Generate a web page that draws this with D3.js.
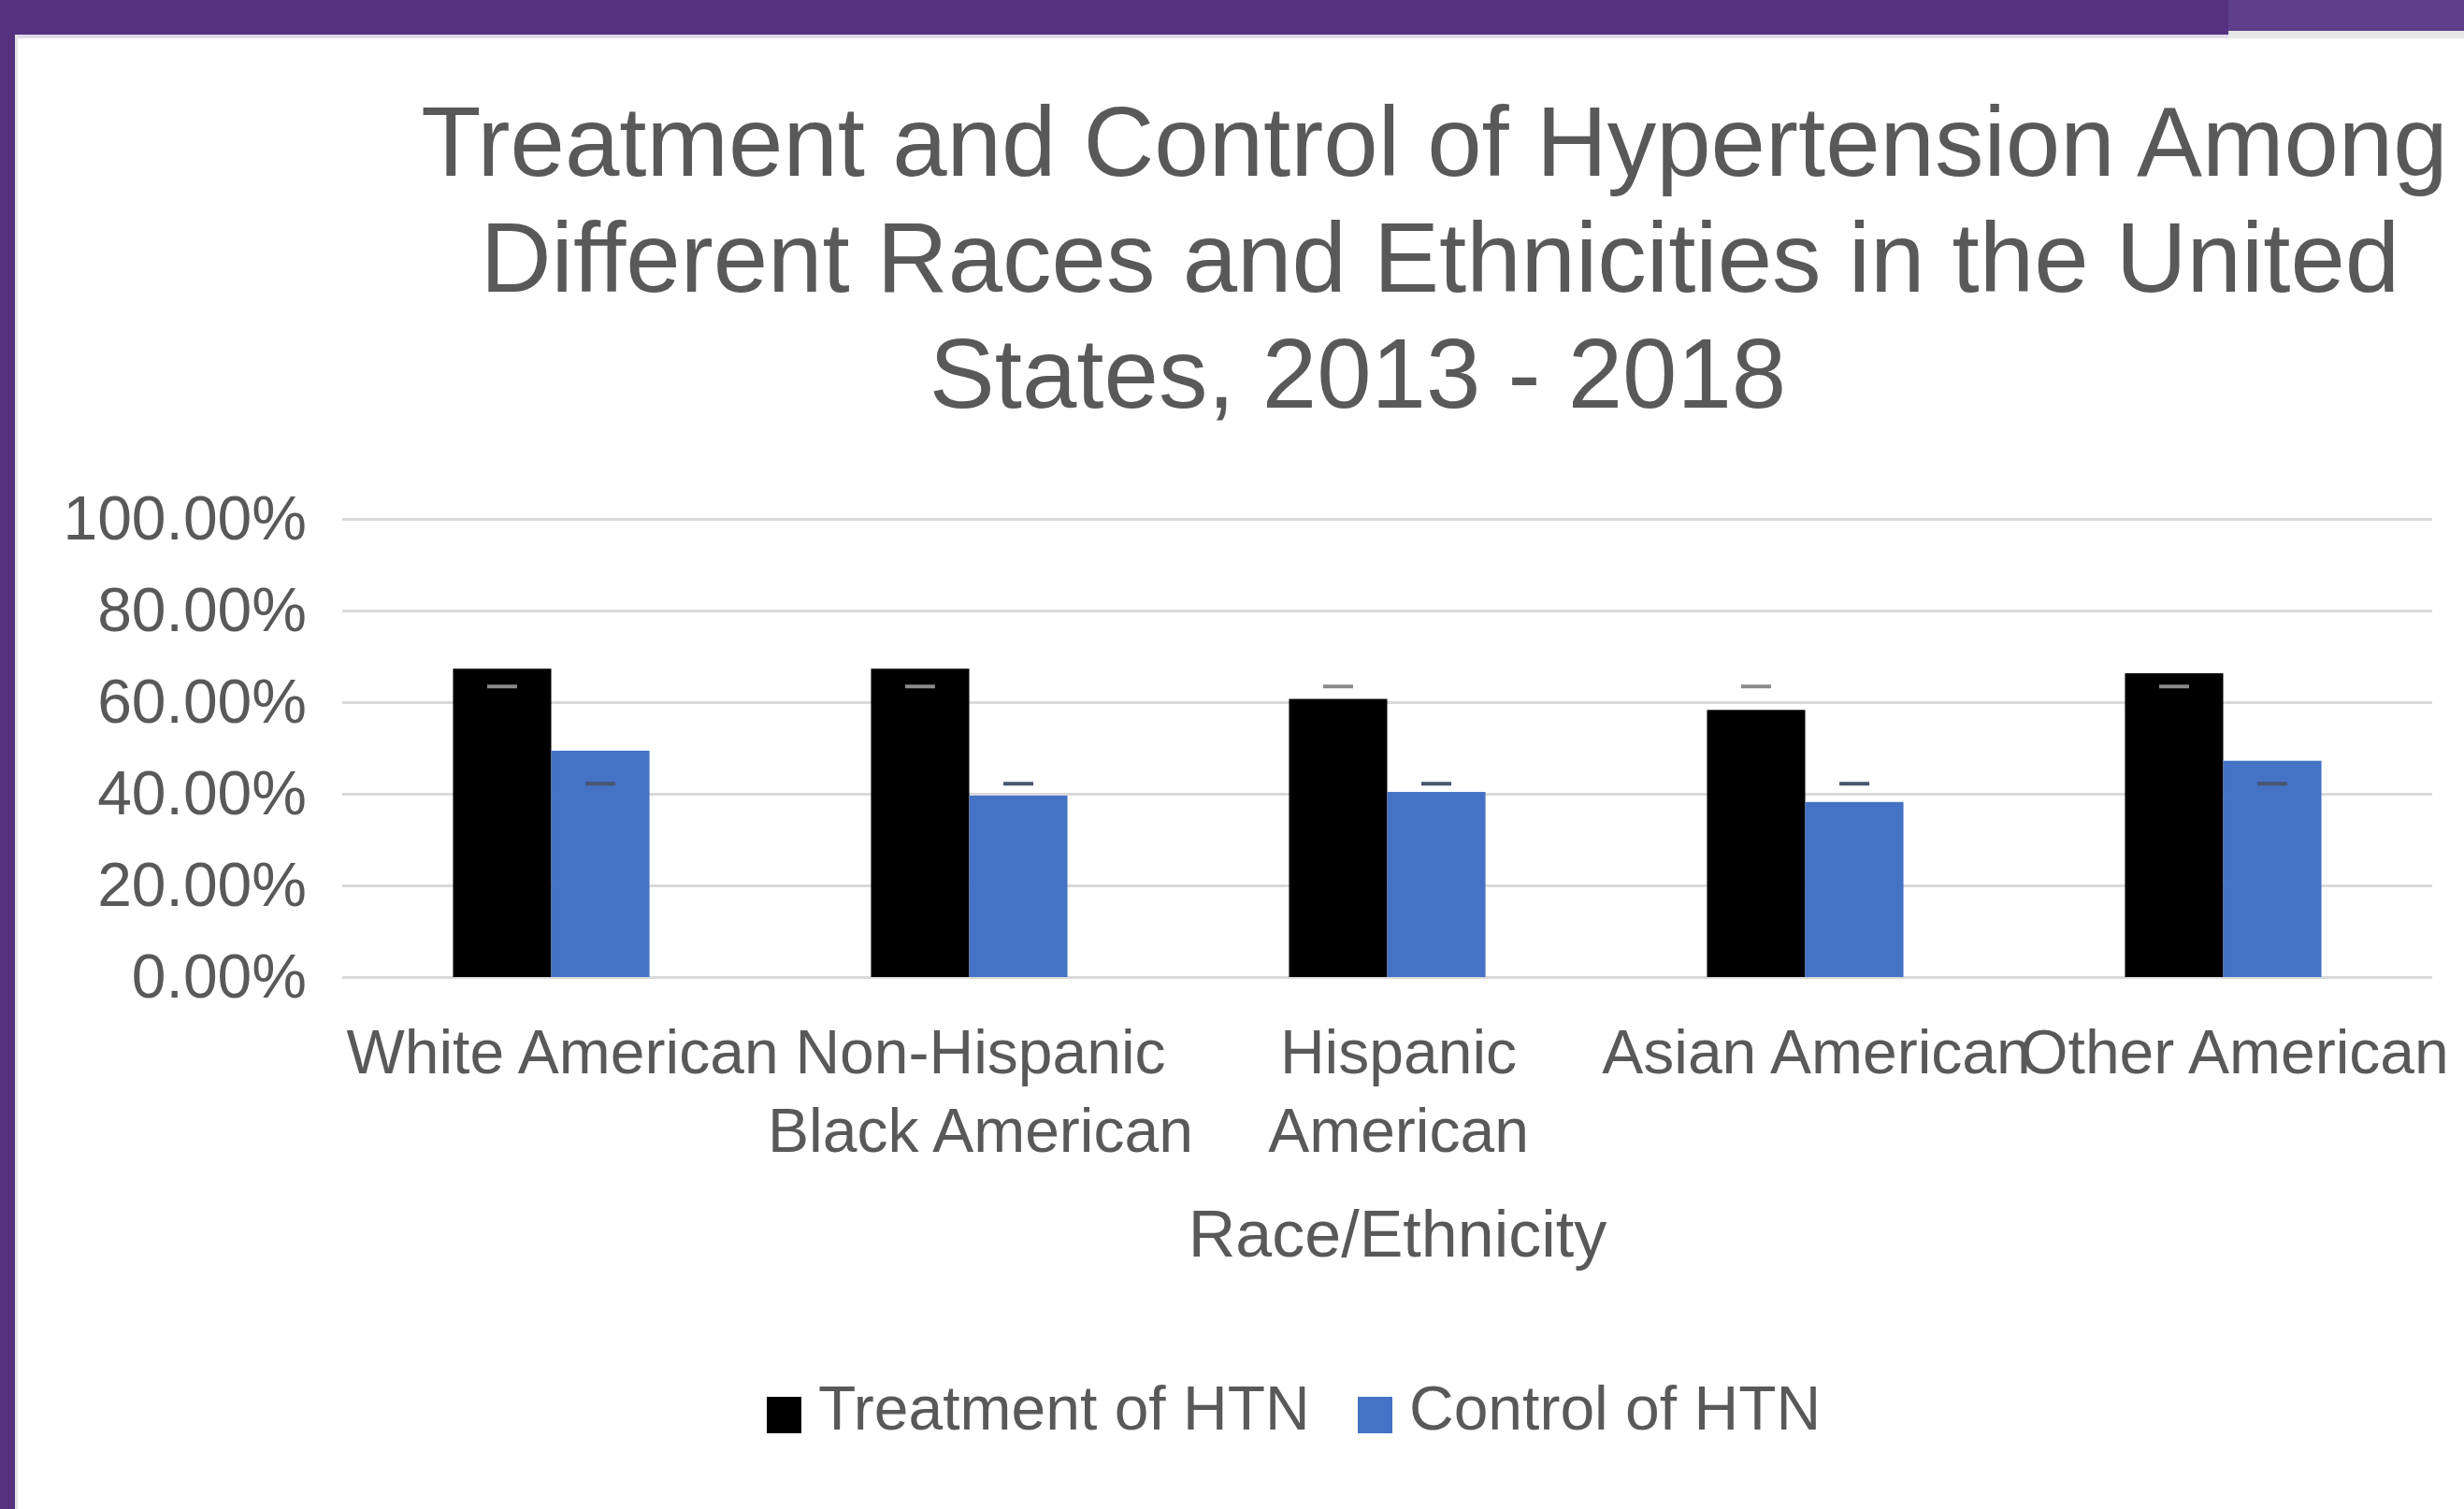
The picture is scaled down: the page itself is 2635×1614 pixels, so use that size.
<!DOCTYPE html>
<html>
<head>
<meta charset="utf-8">
<script src="https://cdn.jsdelivr.net/npm/d3@7"></script>
<style>
  html, body { margin: 0; padding: 0; background: #553180; }
  svg { display: block; }
  text { font-family: "Liberation Sans", Arial, sans-serif; }
</style>
</head>
<body>
<script>
// ---- data ----
const categories = ["White American", "Non-Hispanic Black American", "Hispanic American", "Asian American", "Other American"];
const tickLines = [["White American"], ["Non-Hispanic", "Black American"], ["Hispanic", "American"], ["Asian American"], ["Other American"]];
const seriesNames = ["Treatment of HTN", "Control of HTN"];
const treatment = [67.3, 67.3, 60.7, 58.3, 66.3];
const control = [49.4, 39.6, 40.4, 38.2, 47.2];
const treatmentErr = [63.4, 63.4, 63.4, 63.4, 63.4];
const controlErr = [42.2, 42.2, 42.2, 42.2, 42.2];
const yTicks = [0, 20, 40, 60, 80, 100];
const titleLines = ["Treatment and Control of Hypertension Among", "Different Races and Ethnicities in the United", "States, 2013 - 2018"];
const axisTitle = "Race/Ethnicity";
const colors = ["#000000", "#4472C4"];

const W = 2635, H = 1614;
const svg = d3.select("body").append("svg").attr("width", W).attr("height", H);

// frame
svg.append("rect").attr("width", W).attr("height", H).attr("fill", "#553180");
svg.append("rect").attr("x", 2383).attr("y", 0).attr("width", W - 2383).attr("height", 34).attr("fill", "#5f3e8b");
svg.append("rect").attr("x", 16).attr("y", 37).attr("width", 2367).attr("height", H - 37).attr("fill", "#ffffff");
svg.append("rect").attr("x", 2383).attr("y", 33).attr("width", W - 2383).attr("height", H - 33).attr("fill", "#ffffff");
svg.append("rect").attr("x", 16).attr("y", 37).attr("width", 2367).attr("height", 4).attr("fill", "#e2d9ef");
svg.append("rect").attr("x", 2383).attr("y", 33).attr("width", W - 2383).attr("height", 8).attr("fill", "#e6e6e6");
svg.append("rect").attr("x", 16).attr("y", 37).attr("width", 3).attr("height", H - 37).attr("fill", "#e4e4e4");

// title
const titleX = [1534, 1540, 1452];
const titleY = [188, 312, 436];
svg.append("g").selectAll("text").data(titleLines).join("text")
  .attr("x", (d, i) => titleX[i]).attr("y", (d, i) => titleY[i])
  .attr("text-anchor", "middle").attr("font-size", 105).attr("fill", "#595959")
  .text(d => d);

// scales
const plotL = 366, plotR = 2601, plotT = 555, plotB = 1045;
const x0 = d3.scaleBand().domain(categories).range([plotL, plotR]).padding(0);
const bw = x0.bandwidth();
const x1 = d3.scaleBand().domain(seriesNames).range([0.265 * bw, 0.735 * bw]).padding(0);
const y = d3.scaleLinear().domain([0, 100]).range([plotB, plotT]);

// y axis + gridlines
const yAxis = svg.append("g").attr("transform", `translate(${plotL},0)`)
  .call(d3.axisLeft(y).tickValues(yTicks).tickFormat(d => d.toFixed(2) + "%").tickSize(-(plotR - plotL)).tickPadding(38));
yAxis.select(".domain").remove();
yAxis.selectAll(".tick line").attr("stroke", "#d9d9d9").attr("stroke-width", 3);
yAxis.selectAll(".tick text").attr("font-size", 66).attr("fill", "#595959")
  .attr("font-family", "'Liberation Sans', Arial, sans-serif");

// bars
const rows = categories.map((c, i) => ({ cat: c, vals: [treatment[i], control[i]], errs: [treatmentErr[i], controlErr[i]] }));
const groups = svg.append("g").selectAll("g").data(rows).join("g")
  .attr("transform", d => `translate(${x0(d.cat)},0)`);
groups.selectAll("rect").data(d => d.vals.map((v, j) => ({ s: seriesNames[j], v, j }))).join("rect")
  .attr("x", d => x1(d.s)).attr("width", x1.bandwidth())
  .attr("y", d => y(d.v)).attr("height", d => y(0) - y(d.v))
  .attr("fill", d => colors[d.j]);
// error marks
groups.selectAll("line").data(d => d.errs.map((v, j) => ({ s: seriesNames[j], v, j }))).join("line")
  .attr("x1", d => x1(d.s) + x1.bandwidth() / 2 - 16).attr("x2", d => x1(d.s) + x1.bandwidth() / 2 + 16)
  .attr("y1", d => y(d.v)).attr("y2", d => y(d.v))
  .attr("stroke", d => d.j === 0 ? "#8a8a8a" : "#4a5570").attr("stroke-width", 4);

// x axis labels
const xAxis = svg.append("g").attr("transform", `translate(12,${plotB})`)
  .call(d3.axisBottom(x0).tickSize(0).tickPadding(0).tickFormat(""));
xAxis.select(".domain").remove();
xAxis.selectAll(".tick").each(function(d, i) {
  const t = d3.select(this).append("text").attr("fill", "#595959").attr("font-size", 66)
    .attr("text-anchor", "middle");
  tickLines[i].forEach((ln, k) => {
    t.append("tspan").attr("x", 0).attr("y", 103 + k * 84).text(ln);
  });
});

// axis title
svg.append("text").attr("x", (plotL + plotR) / 2 + 11).attr("y", 1344)
  .attr("text-anchor", "middle").attr("font-size", 70).attr("fill", "#595959").text(axisTitle);

// legend
const legX = [820, 1452];
const leg = svg.append("g").selectAll("g").data(seriesNames).join("g")
  .attr("transform", (d, i) => `translate(${legX[i]},0)`);
leg.append("rect").attr("x", 0).attr("y", 1494).attr("width", 37).attr("height", 39).attr("fill", (d, i) => colors[i]);
leg.append("text").attr("x", 55).attr("y", 1529).attr("font-size", 66).attr("fill", "#595959").text(d => d);
</script>
</body>
</html>
